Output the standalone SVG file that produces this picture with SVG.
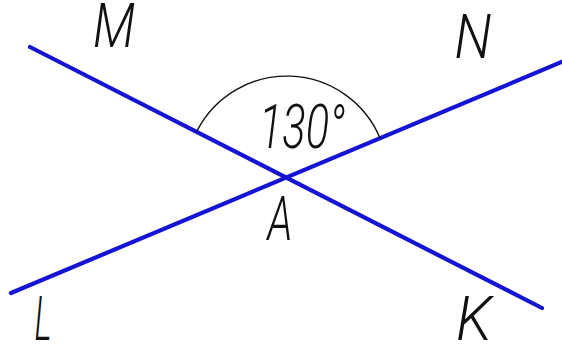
<svg xmlns="http://www.w3.org/2000/svg" width="562" height="344" viewBox="0 0 562 344">
<style>
.ln{stroke:#1414d2;stroke-width:4.2;stroke-linecap:round;fill:none}
.arc{stroke:#111;stroke-width:1.4;fill:none}
.lbl{font-family:Roboto,"DejaVu Sans",sans-serif;font-weight:300;font-style:italic;font-size:61px;fill:#111;text-anchor:middle}
</style>
<rect width="562" height="344" fill="#fff"/>
<g id="connectors">
<line class="ln" x1="30" y1="47" x2="542" y2="308"/>
<line class="ln" x1="11" y1="293" x2="564" y2="61"/>
</g>
<g id="angle">
<path class="arc" d="M197,131 A101,101 0 0 1 380,138"/>
<text class="lbl" x="302" y="148" textLength="86" lengthAdjust="spacingAndGlyphs">130°</text>
</g>
<g id="M"><text class="lbl" x="114" y="47" textLength="42" lengthAdjust="spacingAndGlyphs">M</text></g>
<g id="N"><text class="lbl" x="473" y="58" textLength="37" lengthAdjust="spacingAndGlyphs">N</text></g>
<g id="A"><text class="lbl" x="280" y="240" textLength="25" lengthAdjust="spacingAndGlyphs">A</text></g>
<g id="L"><text class="lbl" x="43" y="340" textLength="17" lengthAdjust="spacingAndGlyphs">L</text></g>
<g id="K"><text class="lbl" x="474" y="340" textLength="36" lengthAdjust="spacingAndGlyphs">K</text></g>
</svg>
